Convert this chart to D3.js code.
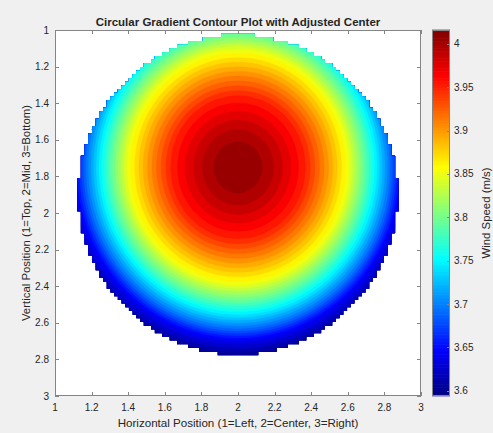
<!DOCTYPE html>
<html>
<head>
<meta charset="utf-8">
<script src="https://cdn.jsdelivr.net/npm/d3@7"></script>
<style>
  html, body { margin: 0; padding: 0; background: #f0f0f0; }
  svg { display: block; }
  text { font-family: "Liberation Sans", Arial, Helvetica, sans-serif; fill: #262626; }
</style>
</head>
<body>
<svg id="chart" width="493" height="433"></svg>
<script>
// ---------------- data ----------------
const xTicks = [1, 1.2, 1.4, 1.6, 1.8, 2, 2.2, 2.4, 2.6, 2.8, 3];
const yTicks = [1, 1.2, 1.4, 1.6, 1.8, 2, 2.2, 2.4, 2.6, 2.8, 3];
const colorTicks = [3.6, 3.65, 3.7, 3.75, 3.8, 3.85, 3.9, 3.95, 4];
const colorLimits = [3.594, 4.016];
// peak of the wind-speed field and the outline of the measured disc
const peakCenter = [2.0, 1.75];
const discCenter = [2.0, 1.9];
const discRadius = [0.885];
const xStretch = [1.06];
// radial profile: distance from the peak -> wind speed (m/s)
const profileDist = [0, 0.142, 0.206, 0.26, 0.306, 0.35, 0.39, 0.51, 0.64, 0.72, 0.80, 0.88, 0.945, 1.016, 1.2, 1.6];
const profileVal  = [4.016, 4.006, 3.996, 3.985, 3.975, 3.965, 3.955, 3.909, 3.855, 3.805, 3.752, 3.698, 3.647, 3.612, 3.54, 3.40];
// contour levels
const levelCount = 41;
const levelStep = 0.0103;
const gridN = 100;

// ---------------- layout ----------------
const svg = d3.select("#chart");
const plot = {left: 55, top: 30, right: 421, bottom: 396};
const cb = {left: 432, right: 450, top: 30, bottom: 396};

const x = d3.scaleLinear().domain([1, 3]).range([plot.left, plot.right]);
const y = d3.scaleLinear().domain([1, 3]).range([plot.top, plot.bottom]);
const c = d3.scaleLinear().domain(colorLimits).range([cb.bottom, cb.top]);

function jet(t) {
  t = Math.max(0, Math.min(1, t));
  const cl = v => Math.round(255 * Math.max(0, Math.min(1, v)));
  return `rgb(${cl(1.5 - Math.abs(4 * t - 3))},${cl(1.5 - Math.abs(4 * t - 2))},${cl(1.5 - Math.abs(4 * t - 1))})`;
}
const norm = d3.scaleLinear().domain(colorLimits).range([0, 1]);
const colorOf = v => jet(norm(v));

// ---------------- field ----------------
const profile = d3.scaleLinear().domain(profileDist).range(profileVal).clamp(false);
const gx = d3.scaleLinear().domain([0, gridN - 1]).range([1, 3]);
const values = new Array(gridN * gridN);
for (let j = 0; j < gridN; j++) {
  for (let i = 0; i < gridN; i++) {
    const dx = (gx(i) - peakCenter[0]) * xStretch[0];
    const dy = gx(j) - peakCenter[1];
    values[j * gridN + i] = profile(Math.sqrt(dx * dx + dy * dy));
  }
}
const levels = d3.range(levelCount).map(k => colorLimits[0] + k * levelStep);

// white plot background
svg.append("rect").attr("x", plot.left).attr("y", plot.top)
  .attr("width", plot.right - plot.left).attr("height", plot.bottom - plot.top)
  .attr("fill", "#ffffff");

// clip: grid cells whose four corners lie inside the disc
const inside = (i, j) => {
  const dx = gx(i) - discCenter[0], dy = gx(j) - discCenter[1];
  return dx * dx + dy * dy <= discRadius[0] * discRadius[0];
};
let clipD = "";
for (let j = 0; j < gridN - 1; j++) {
  let start = -1;
  for (let i = 0; i <= gridN - 1; i++) {
    const ok = i < gridN - 1 && inside(i, j) && inside(i + 1, j) && inside(i, j + 1) && inside(i + 1, j + 1);
    if (ok && start < 0) start = i;
    if (!ok && start >= 0) {
      const x0 = x(gx(start)), x1 = x(gx(i)), y0 = y(gx(j)), y1 = y(gx(j + 1));
      clipD += `M${x0},${y0}H${x1}V${y1}H${x0}Z`;
      start = -1;
    }
  }
}
const defs = svg.append("defs");
defs.append("clipPath").attr("id", "disc").append("path").attr("d", clipD);

const contourG = svg.append("g").attr("clip-path", "url(#disc)");
contourG.append("rect").attr("x", plot.left).attr("y", plot.top)
  .attr("width", plot.right - plot.left).attr("height", plot.bottom - plot.top)
  .attr("fill", colorOf(colorLimits[0]));

const contours = d3.contours().size([gridN, gridN]).thresholds(levels)(values);
const proj = d3.geoTransform({
  point: function (px, py) {
    this.stream.point(x(gx(px - 0.5)), y(gx(py - 0.5)));
  }
});
const path = d3.geoPath(proj);
contourG.selectAll("path.band").data(contours).join("path")
  .attr("class", "band")
  .attr("d", path)
  .attr("fill", d => colorOf(d.value))
  .attr("stroke", d => colorOf(d.value))
  .attr("stroke-width", 0.3);

// ---------------- axes ----------------
const axisColor = "#858585";
const tickLen = 4;
const axG = svg.append("g");
axG.append("rect").attr("x", plot.left + 0.5).attr("y", plot.top + 0.5)
  .attr("width", plot.right - plot.left - 1).attr("height", plot.bottom - plot.top - 1)
  .attr("fill", "none").attr("stroke", axisColor).attr("stroke-width", 1);

xTicks.forEach(v => {
  const px = Math.round(x(v)) + 0.5;
  axG.append("line").attr("x1", px).attr("x2", px).attr("y1", plot.bottom).attr("y2", plot.bottom - tickLen)
    .attr("stroke", axisColor);
  axG.append("line").attr("x1", px).attr("x2", px).attr("y1", plot.top).attr("y2", plot.top + tickLen)
    .attr("stroke", axisColor);
  axG.append("text").attr("x", x(v)).attr("y", plot.bottom + 15)
    .attr("text-anchor", "middle").attr("font-size", 10).text(d3.format("")(v));
});
yTicks.forEach(v => {
  const py = Math.round(y(v)) + 0.5;
  axG.append("line").attr("x1", plot.left).attr("x2", plot.left + tickLen).attr("y1", py).attr("y2", py)
    .attr("stroke", axisColor);
  axG.append("line").attr("x1", plot.right).attr("x2", plot.right - tickLen).attr("y1", py).attr("y2", py)
    .attr("stroke", axisColor);
  axG.append("text").attr("x", plot.left - 6).attr("y", y(v) + 3.5)
    .attr("text-anchor", "end").attr("font-size", 10).text(d3.format("")(v));
});

// title and labels
svg.append("text").attr("x", (plot.left + plot.right) / 2).attr("y", 26)
  .attr("text-anchor", "middle").attr("font-size", 11.5).attr("font-weight", "bold")
  .attr("fill", "#000").text("Circular Gradient Contour Plot with Adjusted Center");
svg.append("text").attr("x", (plot.left + plot.right) / 2).attr("y", 427)
  .attr("text-anchor", "middle").attr("font-size", 11.6)
  .text("Horizontal Position (1=Left, 2=Center, 3=Right)");
svg.append("text").attr("transform", `translate(30,${(plot.top + plot.bottom) / 2}) rotate(-90)`)
  .attr("text-anchor", "middle").attr("font-size", 11.4)
  .text("Vertical Position (1=Top, 2=Mid, 3=Bottom)");

// ---------------- colorbar ----------------
const nSlices = 256;
const sliceVals = d3.range(nSlices).map(k => colorLimits[0] + (k + 0.5) * (colorLimits[1] - colorLimits[0]) / nSlices);
const sliceH = (cb.bottom - cb.top) / nSlices;
svg.append("g").selectAll("rect").data(sliceVals).join("rect")
  .attr("x", cb.left).attr("width", cb.right - cb.left)
  .attr("y", d => c(d) - sliceH / 2 - 0.3).attr("height", sliceH + 0.6)
  .attr("fill", d => colorOf(d));
svg.append("rect").attr("x", cb.left + 0.5).attr("y", cb.top + 0.5)
  .attr("width", cb.right - cb.left - 1).attr("height", cb.bottom - cb.top - 1)
  .attr("fill", "none").attr("stroke", axisColor);
colorTicks.forEach(v => {
  const py = Math.round(c(v)) + 0.5;
  svg.append("line").attr("x1", cb.right).attr("x2", cb.right - 3).attr("y1", py).attr("y2", py)
    .attr("stroke", axisColor);
  svg.append("text").attr("x", cb.right + 4).attr("y", c(v) + 3.5)
    .attr("font-size", 10).text(d3.format("")(v));
});
svg.append("text").attr("transform", `translate(490,${(cb.top + cb.bottom) / 2}) rotate(-90)`)
  .attr("text-anchor", "middle").attr("font-size", 11.4).text("Wind Speed (m/s)");
</script>
</body>
</html>
